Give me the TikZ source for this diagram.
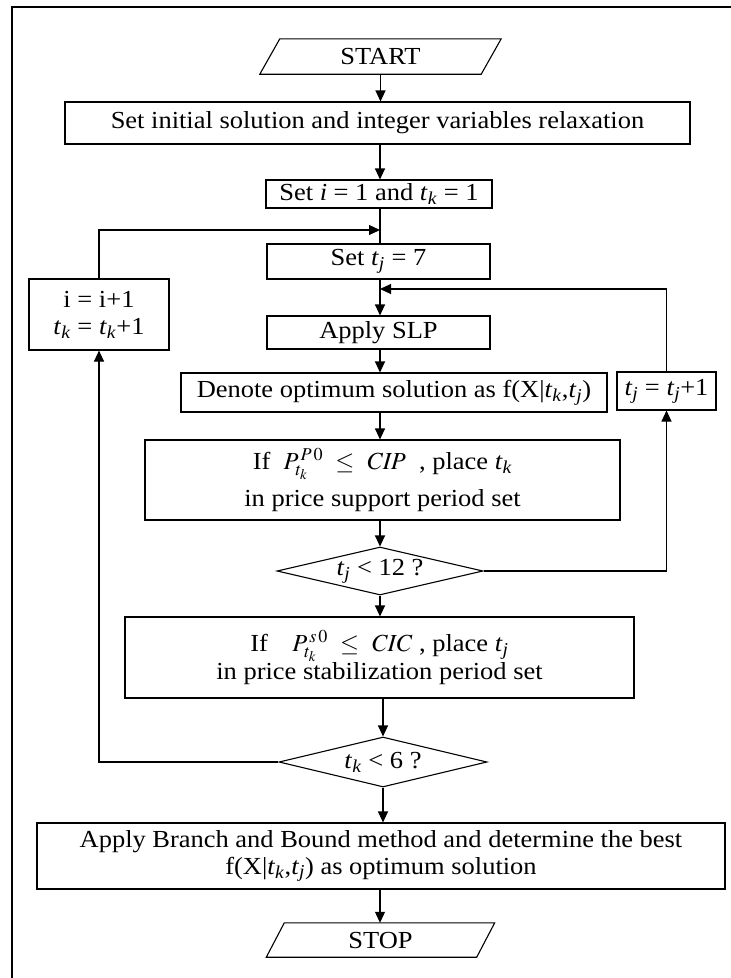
\documentclass[tikz,border=0pt]{standalone}
\usepackage{mathptmx}
\usepackage{fontspec}
\setmainfont{Liberation Serif}[FakeStretch=1.08]
\usetikzlibrary{shapes.geometric,arrows.meta}
\newcommand{\myt}[1]{\textit{t}\textsubscript{\textit{#1}}}
\newcommand{\fs}{\fontsize{24.5}{27}\selectfont}
\begin{document}
\begin{tikzpicture}[x=1pt,y=-1pt,
  every node/.style={font=\fs, inner sep=0pt, align=center},
  box/.style={draw, line width=1.1pt},
  dia/.style={draw, line width=1.1pt, shape=diamond, aspect=4.3},
  arr/.style={line width=1.1pt, -{Triangle[length=11pt,width=10pt]}},
  lin/.style={line width=1.1pt}]
\useasboundingbox (0,0) rectangle (731,978);
\draw[line width=1.6pt] (12,978) -- (12,7) -- (731,7);
\coordinate (ax) at (380,0);
\node (start) [minimum width=221pt, minimum height=35pt] at (380.5,56.5) {START};
\draw[lin] ([xshift=10pt]start.north west) -- ([xshift=10pt]start.north east) -- ([xshift=-10pt]start.south east) -- ([xshift=-10pt]start.south west) -- cycle;
\node[box, minimum width=625pt, minimum height=42pt] (init) at (377.5,123) {Set initial solution and integer variables relaxation};
\node[box, minimum width=226pt, minimum height=28pt] (seti) at (379,194) {Set \textit{i} = 1 and \myt{k} = 1};
\node[box, minimum width=223pt, minimum height=35pt] (settj) at (378.5,261.5) {Set \myt{j} = 7};
\node[box, minimum width=140pt, minimum height=71pt] (incr) at (99,314.5) {i = i+1\\ \myt{k} = \myt{k}+1};
\node[box, minimum width=223pt, minimum height=33pt] (slp) at (378.5,332.5) {Apply SLP};
\node[box, minimum width=426pt, minimum height=39pt] (denote) at (394,392.5) {Denote optimum solution as f(X|\myt{k},\myt{j})};
\node[box, minimum width=99pt, minimum height=38pt] (incj) at (666.5,391) {\myt{j} = \myt{j}+1};
\node[box, minimum width=475pt, minimum height=80pt] (ifp) at (382.5,480) {If\ \ $P_{t_k}^{\,P\,0}\ \le\ \mathit{CIP}$\ \ , place \myt{k}\\[9pt] in price support period set};
\node[dia, minimum width=206pt, minimum height=48pt] (dj) at (380,571) {\myt{j} < 12 ?};
\node[box, minimum width=509pt, minimum height=81pt] (ifs) at (379.5,657.5) {If\quad $P_{t_k}^{\,s\,0}\ \le\ \mathit{CIC}$ , place \myt{j}\\ in price stabilization period set};
\node[dia, minimum width=208pt, minimum height=50pt] (dk) at (383,762) {\myt{k} < 6 ?};
\node[box, minimum width=688pt, minimum height=66pt] (bb) at (381,856) {Apply Branch and Bound method and determine the best\\ f(X|\myt{k},\myt{j}) as optimum solution};
\node (stop) [minimum width=210pt, minimum height=34pt] at (380.5,940) {STOP};
\draw[lin] ([xshift=9pt]stop.north west) -- ([xshift=9pt]stop.north east) -- ([xshift=-9pt]stop.south east) -- ([xshift=-9pt]stop.south west) -- cycle;
\coordinate (jl) at (380,230);
\coordinate (jr) at (380,289);
\draw[arr] (start.south) -- (start.south |- init.north);
\draw[arr] (ax |- init.south) -- (ax |- seti.north);
\draw[lin] (ax |- seti.south) -- (ax |- settj.north);
\draw[arr] (incr.north) |- (jl);
\draw[arr] (ax |- settj.south) -- (ax |- slp.north);
\draw[arr] (incj.north) |- (jr);
\draw[arr] (ax |- slp.south) -- (ax |- denote.north);
\draw[arr] (ax |- denote.south) -- (ax |- ifp.north);
\draw[arr] (ax |- ifp.south) -- (dj.north);
\draw[arr] (dj.east) -| (incj.south);
\draw[arr] (dj.south) -- (ax |- ifs.north);
\draw[arr] (dk.north |- ifs.south) -- (dk.north);
\draw[arr] (dk.west) -| (incr.south);
\draw[arr] (dk.south) -- (dk.south |- bb.north);
\draw[arr] (ax |- bb.south) -- (ax |- stop.north);
\end{tikzpicture}
\end{document}
